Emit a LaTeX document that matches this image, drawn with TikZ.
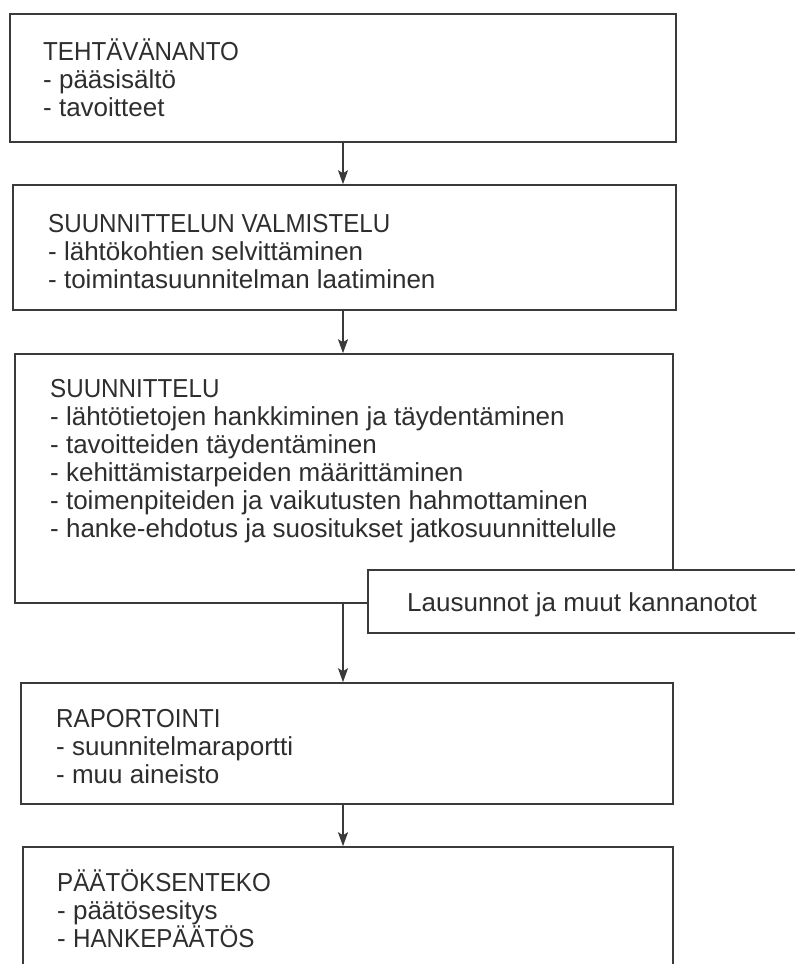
\documentclass[tikz,border=0pt]{standalone}
\usepackage{fontspec}
\usepackage{graphicx}
\setmainfont{Liberation Sans}
\usetikzlibrary{arrows.meta}
\definecolor{ink}{HTML}{2E2E2E}
\definecolor{rule}{HTML}{3A3A3A}
% stage headings are set slightly narrower than the item lines
\newcommand{\stagehead}[1]{\scalebox{0.93}[1]{#1}}
\begin{document}
\begin{tikzpicture}[x=1pt,y=-1pt,
  stage/.style={draw=rule, line width=1.6pt, rectangle, inner sep=0pt, fill=white},
  label/.style={anchor=base west, inner sep=0pt, text=ink,
    font=\fontsize{26}{28}\selectfont, align=left},
  flow/.style={draw=rule, line width=1.5pt,
    -{Stealth[length=14pt,width=10pt,inset=3pt]}}]
\useasboundingbox (0,0) rectangle (795,964);

% vertical axis shared by all arrows
\coordinate (spine) at (343,0);

% stage boxes
\node[stage, minimum width=666pt, minimum height=128pt] (b1) at (343,78) {};
\node[stage, minimum width=663pt, minimum height=125pt] (b2) at (344.5,247.5) {};
\node[stage, minimum width=658pt, minimum height=249pt] (b3) at (344,478.5) {};
\node[stage, minimum width=462pt, minimum height=63pt] (side) at (599,601.5) {};
\node[stage, minimum width=652pt, minimum height=121pt] (b4) at (347,743.5) {};
\node[stage, minimum width=650pt, minimum height=143pt] (b5) at (348,918.5) {};

% box contents (each node is placed by the baseline of its last line)
\node[label] (t1) at (43,116) {\stagehead{TEHTÄVÄNANTO}\\- pääsisältö\\- tavoitteet};
\node[label] (t2) at (48,288) {\stagehead{SUUNNITTELUN VALMISTELU}\\- lähtökohtien selvittäminen\\- toimintasuunnitelman laatiminen};
\node[label] (t3) at (50,537) {\stagehead{SUUNNITTELU}\\- lähtötietojen hankkiminen ja täydentäminen\\- tavoitteiden täydentäminen\\- kehittämistarpeiden määrittäminen\\- toimenpiteiden ja vaikutusten hahmottaminen\\- hanke-ehdotus ja suositukset jatkosuunnittelulle};
\node[label] (ts) at (407,611) {Lausunnot ja muut kannanotot};
\node[label] (t4) at (56,783) {\stagehead{RAPORTOINTI}\\- suunnitelmaraportti\\- muu aineisto};
\node[label] (t5) at (57,947) {\stagehead{PÄÄTÖKSENTEKO}\\- päätösesitys\\- \stagehead{HANKEPÄÄTÖS}};

% arrows between stages
\draw[flow] (b1.south -| spine) -- (b2.north -| spine);
\draw[flow] (b2.south -| spine) -- (b3.north -| spine);
\draw[flow] (b3.south -| spine) -- (b4.north -| spine);
\draw[flow] (b4.south -| spine) -- (b5.north -| spine);
\end{tikzpicture}
\end{document}
